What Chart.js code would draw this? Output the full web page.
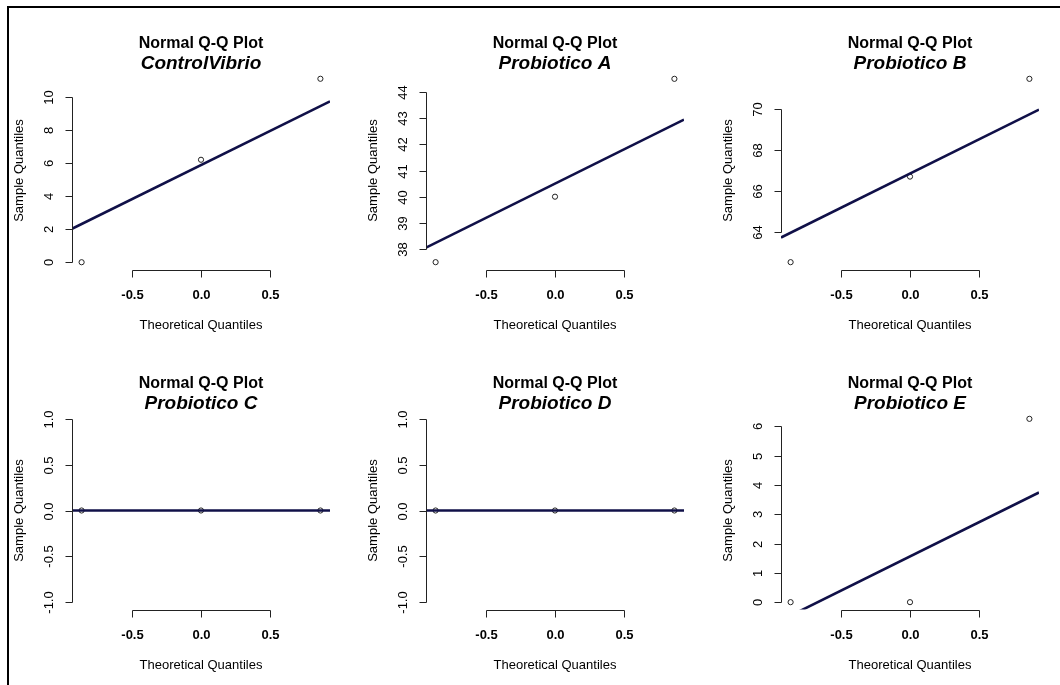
<!DOCTYPE html>
<html>
<head>
<meta charset="utf-8">
<title>Normal Q-Q Plots</title>
<script src="https://cdn.jsdelivr.net/npm/chart.js@4.4.0/dist/chart.umd.min.js"></script>
<style>
    html, body { margin: 0; padding: 0; background: #fff; overflow: hidden; }
    #page { position: relative; width: 1060px; height: 685px; background: #fff; }
    #frame { position: absolute; left: 7px; top: 6px; right: 0; bottom: 0; border-top: 2px solid #000; border-left: 2px solid #000; }
    #page canvas { position: absolute; }
</style>
</head>
<body>
<div id="page">
    <div id="frame"></div>
</div>
<script>
// Datos
const panelNames = ['ControlVibrio', 'Probiotico A', 'Probiotico B', 'Probiotico C', 'Probiotico D', 'Probiotico E'];
const theoretical = [-0.87, 0, 0.87];

const controlVibrio = [0, 6.2, 11.1];
const probioticoA = [37.5, 40.0, 44.5];
const probioticoB = [62.5, 66.7, 71.5];
const probioticoC = [0, 0, 0];
const probioticoD = [0, 0, 0];
const probioticoE = [0, 0, 6.25];
const samples = [controlVibrio, probioticoA, probioticoB, probioticoC, probioticoD, probioticoE];

// qqline: valor en 0 y pendiente
const lineMid = [5.88, 40.5, 66.85, 0, 0, 1.56];
const lineSlope = [4.1, 2.6, 3.34, 0, 0, 2.32];

const xTickLabels = ['-0.5', '0.0', '0.5'];
const yTickLabels = [
    ['0', '2', '4', '6', '8', '10'],
    ['38', '39', '40', '41', '42', '43', '44'],
    ['64', '66', '68', '70'],
    ['-1.0', '-0.5', '0.0', '0.5', '1.0'],
    ['-1.0', '-0.5', '0.0', '0.5', '1.0'],
    ['0', '1', '2', '3', '4', '5', '6']
];
const xRange = [-0.94, 0.94];
const yRanges = [[-0.44, 11.54], [37.22, 44.78], [62.14, 71.86], [-1.08, 1.08], [-1.08, 1.08], [-0.25, 6.5]];

const FONT = '"Liberation Sans", Arial, sans-serif';
const LINE_COLOR = '#101048';

// Ejes estilo R: línea del primer al último tick, etiquetas rotadas en y
const rAxes = {
    id: 'rAxes',
    afterDraw(chart, args, opts) {
        const { ctx, chartArea: a } = chart;
        const x = chart.scales.x, y = chart.scales.y;
        ctx.save();
        ctx.strokeStyle = '#222';
        ctx.lineWidth = 1;
        ctx.fillStyle = '#000';

        // eje x
        const xs = xTickLabels.map(t => Math.round(x.getPixelForValue(Number(t))) + 0.5);
        const yb = Math.round(a.bottom) + 0.5;
        ctx.beginPath();
        ctx.moveTo(xs[0], yb);
        ctx.lineTo(xs[xs.length - 1], yb);
        xs.forEach(px => { ctx.moveTo(px, yb); ctx.lineTo(px, yb + 7); });
        ctx.stroke();
        ctx.font = 'bold 13px ' + FONT;
        ctx.textAlign = 'center';
        ctx.textBaseline = 'alphabetic';
        xTickLabels.forEach((t, i) => ctx.fillText(t, xs[i], a.bottom + 29));

        // eje y
        const labels = opts.yLabels;
        const ys = labels.map(t => Math.round(y.getPixelForValue(Number(t))) + 0.5);
        const xl = Math.round(a.left) + 0.5;
        ctx.beginPath();
        ctx.moveTo(xl, ys[0]);
        ctx.lineTo(xl, ys[ys.length - 1]);
        ys.forEach(py => { ctx.moveTo(xl, py); ctx.lineTo(xl - 7, py); });
        ctx.stroke();
        ctx.font = '13px ' + FONT;
        labels.forEach((t, i) => {
            ctx.save();
            ctx.translate(a.left - 19.5, ys[i]);
            ctx.rotate(-Math.PI / 2);
            ctx.fillText(t, 0, 0);
            ctx.restore();
        });

        // títulos de ejes
        const cx = (a.left + a.right) / 2;
        const cy = (a.top + a.bottom) / 2;
        ctx.fillText('Theoretical Quantiles', cx, a.bottom + 59);
        ctx.save();
        ctx.translate(a.left - 49, cy);
        ctx.rotate(-Math.PI / 2);
        ctx.fillText('Sample Quantiles', 0, 0);
        ctx.restore();

        // título principal
        ctx.font = 'bold 16px ' + FONT;
        ctx.fillText('Normal Q-Q Plot', cx, a.top - 24);
        ctx.font = 'italic bold 19px ' + FONT;
        ctx.fillText(opts.name, cx, a.top - 3);
        ctx.restore();
    }
};

const page = document.getElementById('page');
const colLeft = [0, 354, 709];

panelNames.forEach((name, i) => {
    const col = i % 3, row = Math.floor(i / 3);
    const canvas = document.createElement('canvas');
    canvas.width = 354;
    canvas.height = 340;
    canvas.style.left = colLeft[col] + 'px';
    canvas.style.top = (row * 340) + 'px';
    page.appendChild(canvas);

    const pts = theoretical.map((t, k) => ({ x: t, y: samples[i][k] }));
    const qq = xRange.map(t => ({ x: t, y: lineMid[i] + lineSlope[i] * t }));

    new Chart(canvas.getContext('2d'), {
        type: 'scatter',
        data: {
            datasets: [{
                data: qq,
                showLine: true,
                borderColor: LINE_COLOR,
                borderWidth: 2.6,
                pointRadius: 0
            }, {
                data: pts,
                pointRadius: 2.6,
                pointBorderWidth: 1,
                pointBorderColor: '#222',
                pointBackgroundColor: 'rgba(0,0,0,0)'
            }]
        },
        options: {
            responsive: false,
            animation: false,
            events: [],
            layout: { padding: { left: 72, right: 24, top: 71.5, bottom: 70.5 } },
            scales: {
                x: { type: 'linear', display: false, min: xRange[0], max: xRange[1] },
                y: { type: 'linear', display: false, min: yRanges[i][0], max: yRanges[i][1] }
            },
            plugins: {
                legend: { display: false },
                tooltip: { enabled: false },
                rAxes: { name: name, yLabels: yTickLabels[i] }
            }
        },
        plugins: [rAxes]
    });
});
</script>
</body>
</html>
